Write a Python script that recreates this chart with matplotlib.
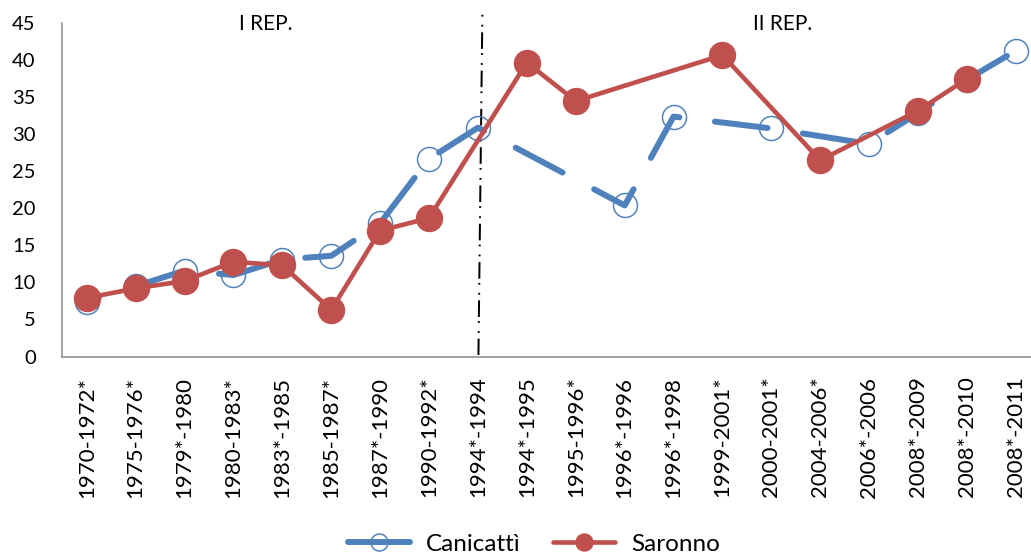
import matplotlib
matplotlib.use("Agg")
import matplotlib.pyplot as plt
from matplotlib.lines import Line2D
import numpy as np

plt.rcParams['font.family'] = ['Lato', 'DejaVu Sans']
plt.rcParams['lines.scale_dashes'] = False

periodi = ['1970-1972*', '1975-1976*', '1979*-1980', '1980-1983*', '1983*-1985',
           '1985-1987*', '1987*-1990', '1990-1992*', '1994*-1994', '1994*-1995',
           '1995-1996*', '1996*-1996', '1996*-1998', '1999-2001*', '2000-2001*',
           '2004-2006*', '2006*-2006', '2008*-2009', '2008*-2010', '2008*-2011']

# None = no value for that period (Excel connects over the gap)
canicatti = [7.4, 9.5, 11.6, 11.0, 13.1, 13.6, 18.0, 26.7, 30.9, None,
             None, 20.4, 32.4, None, 30.8, None, 28.7, 32.9, 37.4, 41.3]
saronno = [7.9, 9.2, 10.2, 12.8, 12.3, 6.3, 17.0, 18.7, None, 39.7,
           34.5, None, None, 40.7, None, 26.5, None, 33.2, 37.5, None]

etichette_rep = ['I REP.', 'II REP.']

BLU = '#4F81BD'
ROSSO = '#C0504D'
PX = 0.72  # points per pixel at dpi 100


def punti(serie):
    xs = [i for i, v in enumerate(serie) if v is not None]
    ys = [v for v in serie if v is not None]
    return np.array(xs), np.array(ys)


fig = plt.figure(figsize=(10.31, 5.59), dpi=100)
ax = fig.add_axes([62.3 / 1031, (559 - 356.5) / 559, 20 * 48.9 / 1031, (356.5 - 23.3) / 559])

xb, yb = punti(canicatti)
ax.plot(xb, yb, color=BLU, lw=6 * PX,
        linestyle=(40.4 * PX, (53 * PX, 35.8 * PX)),
        dash_capstyle='round', solid_capstyle='round', dash_joinstyle='round',
        marker='o', markersize=24 * PX, markerfacecolor='none',
        markeredgecolor=BLU, markeredgewidth=1.5 * PX, zorder=3, clip_on=False)

xr, yr = punti(saronno)
ax.plot(xr, yr, color=ROSSO, lw=4.6 * PX, solid_joinstyle='round',
        marker='o', markersize=26 * PX, markerfacecolor=ROSSO,
        markeredgecolor=ROSSO, zorder=4, clip_on=False)

# separator between I and II Repubblica
ax.plot([8.09, 8.01], [46.15, 0.2], color='black', lw=2 * PX,
        linestyle=(20.8 * PX, (16.6 * PX, 4.2 * PX, 1.8 * PX, 8.2 * PX, 1.8 * PX, 5.7 * PX)),
        clip_on=False, zorder=2)

ax.text(3.66, 44.03, etichette_rep[0], ha='center', va='baseline', fontsize=15)
ax.text(14.23, 44.03, etichette_rep[1], ha='center', va='baseline', fontsize=15)

ax.set_xlim(-0.5, 19.5)
ax.set_ylim(0, 45)
ax.set_yticks(np.arange(0, 46, 5))
ax.set_xticks(np.arange(len(periodi)))
ax.set_xticklabels(periodi, rotation=90, fontsize=16)
ax.tick_params(axis='x', length=0, pad=20 * PX)
ax.tick_params(axis='y', length=0, pad=26.6 * PX, labelsize=14.5)

for s in ['top', 'right']:
    ax.spines[s].set_visible(False)
for s in ['left', 'bottom']:
    ax.spines[s].set_color('#868686')
    ax.spines[s].set_linewidth(1.5 * PX)

handles = [
    Line2D([], [], color=BLU, lw=6 * PX, solid_capstyle='round', marker='o',
           markersize=17 * PX, markerfacecolor='none', markeredgecolor=BLU,
           markeredgewidth=1.5 * PX),
    Line2D([], [], color=ROSSO, lw=4.6 * PX, solid_capstyle='round', marker='o',
           markersize=17 * PX, markerfacecolor=ROSSO, markeredgecolor=ROSSO),
]
fig.legend(handles, ['Canicattì', 'Saronno'], loc='center',
           bbox_to_anchor=(534 / 1031, 15 / 559), ncol=2, frameon=False,
           fontsize=17.5, handlelength=2.55, handletextpad=0.66,
           columnspacing=1.36, borderpad=0)

fig.savefig('out.png', dpi=100)
